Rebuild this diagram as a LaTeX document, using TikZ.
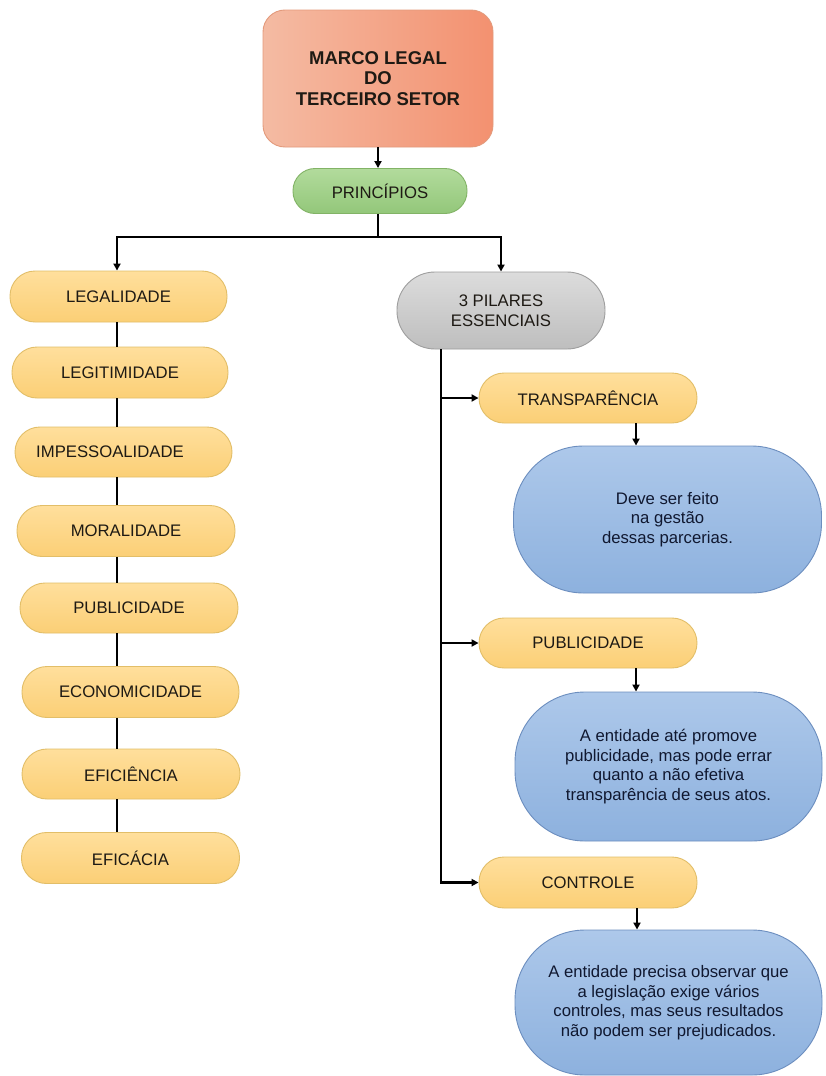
\documentclass[tikz,border=0pt]{standalone}
\usepackage{fontspec}
\setmainfont{Liberation Sans}
\usetikzlibrary{arrows.meta}
\definecolor{salL}{HTML}{F4BBA3}
\definecolor{salR}{HTML}{F39170}
\definecolor{salB}{HTML}{E39A7C}
\definecolor{grnT}{HTML}{B2DB9C}
\definecolor{grnB}{HTML}{93C77A}
\definecolor{grnD}{HTML}{82B366}
\definecolor{ylwT}{HTML}{FFDF9C}
\definecolor{ylwB}{HTML}{FBCF76}
\definecolor{ylwD}{HTML}{E2BE68}
\definecolor{gryT}{HTML}{DCDCDC}
\definecolor{gryB}{HTML}{BEBEBE}
\definecolor{gryD}{HTML}{9E9E9E}
\definecolor{bluT}{HTML}{ADC8EA}
\definecolor{bluB}{HTML}{8DB1DE}
\definecolor{bluD}{HTML}{6C8EBF}
\definecolor{txtY}{HTML}{1E1A14}
\definecolor{txtB}{HTML}{101830}
\tikzset{
  x=1pt, y=-1pt,
  base/.style={rectangle, draw, line width=0.9pt, inner sep=0pt, align=center,
    font=\fontsize{16.7}{19.5}\selectfont},
  titlebox/.style={base, draw=salB, left color=salL, right color=salR,
    rounded corners=22pt, minimum width=230pt, minimum height=137pt,
    text=txtY, font=\fontsize{18.5}{20.5}\selectfont\bfseries},
  greenbox/.style={base, draw=grnD, top color=grnT, bottom color=grnB,
    rounded corners=22pt, minimum width=174pt, minimum height=45pt, text=txtY},
  pill/.style={base, draw=ylwD, top color=ylwT, bottom color=ylwB,
    rounded corners=25pt, minimum width=218pt, minimum height=51pt, text=txtY},
  graybox/.style={base, draw=gryD, top color=gryT, bottom color=gryB,
    rounded corners=38pt, minimum width=208pt, minimum height=77pt, text=txtY},
  bluebox/.style={base, draw=bluD, top color=bluT, bottom color=bluB,
    rounded corners=70pt, minimum width=308pt, minimum height=147pt, text=txtB},
  conn/.style={line width=2.2pt, black},
  arr/.style={conn, -{Triangle[length=7pt,width=7pt]}}
}
\begin{document}
\begin{tikzpicture}
\useasboundingbox[fill=white] (0,0) rectangle (825,1076);

% top
\node[titlebox] (marco) at (378,78.5) {MARCO LEGAL\\DO\\TERCEIRO SETOR};
\node[greenbox] (princ) at (380,191) {PRINCÍPIOS};

% left column
\node[pill, minimum width=217pt] (legal) at (118.5,296.5) {LEGALIDADE};
\node[pill, minimum width=216pt] (legit) at (120,372.5) {LEGITIMIDADE};
\node[pill, minimum width=217pt, minimum height=50pt] (impes) at (123.5,452) {\hspace*{-27pt}IMPESSOALIDADE};
\node[pill] (moral) at (126,531) {MORALIDADE};
\node[pill, minimum height=50pt] (publ) at (129,608) {PUBLICIDADE};
\node[pill, minimum width=217pt] (econ) at (130.5,692) {ECONOMICIDADE};
\node[pill, minimum height=50pt] (efici) at (131,774) {EFICIÊNCIA};
\node[pill] (efica) at (130.5,858) {EFICÁCIA};

% right column
\node[graybox] (pilar) at (501,310.5) {3 PILARES\\ESSENCIAIS};
\node[pill, minimum height=50pt] (transp) at (588,398) {TRANSPARÊNCIA};
\node[bluebox] (blue1) at (667.5,519.5) {Deve ser feito\\na gestão\\dessas parcerias.};
\node[pill, minimum height=50pt] (publ2) at (588,643) {PUBLICIDADE};
\node[bluebox, minimum width=307pt, minimum height=149pt] (blue2) at (668.5,766.5)
  {A entidade até promove\\publicidade, mas pode errar\\quanto a não efetiva\\transparência de seus atos.};
\node[pill] (contr) at (588,882.5) {CONTROLE};
\node[bluebox, minimum width=307pt, minimum height=145pt] (blue3) at (668.5,1002.5)
  {A entidade precisa observar que\\a legislação exige vários\\controles, mas seus resultados\\não podem ser prejudicados.};

% connectors top
\coordinate (bj) at (378,237);
\draw[arr] (marco.south) -- (marco.south |- princ.north);
\draw[conn] (princ.south -| bj) -- (bj);
\draw[arr] (bj) -| ([xshift=-1.5pt]legal.north);
\draw[arr] (bj) -| (pilar.north);

% left chain
\coordinate (lx) at (117,0);
\draw[conn] (legal.south -| lx) -- (legit.north -| lx);
\draw[conn] (legit.south -| lx) -- (impes.north -| lx);
\draw[conn] (impes.south -| lx) -- (moral.north -| lx);
\draw[conn] (moral.south -| lx) -- (publ.north -| lx);
\draw[conn] (publ.south -| lx) -- (econ.north -| lx);
\draw[conn] (econ.south -| lx) -- (efici.north -| lx);
\draw[conn] (efici.south -| lx) -- (efica.north -| lx);

% right trunk
\coordinate (vx) at (441,0);
\draw[arr] (pilar.south -| vx) |- (contr.west);
\draw[arr] (transp.west -| vx) -- (transp.west);
\draw[arr] (publ2.west -| vx) -- (publ2.west);

% down arrows to blue boxes
\draw[arr] ([xshift=48pt]transp.south) -- ([xshift=48pt]transp.south |- blue1.north);
\draw[arr] ([xshift=48pt]publ2.south) -- ([xshift=48pt]publ2.south |- blue2.north);
\draw[arr] ([xshift=49pt]contr.south) -- ([xshift=49pt]contr.south |- blue3.north);
\end{tikzpicture}
\end{document}
